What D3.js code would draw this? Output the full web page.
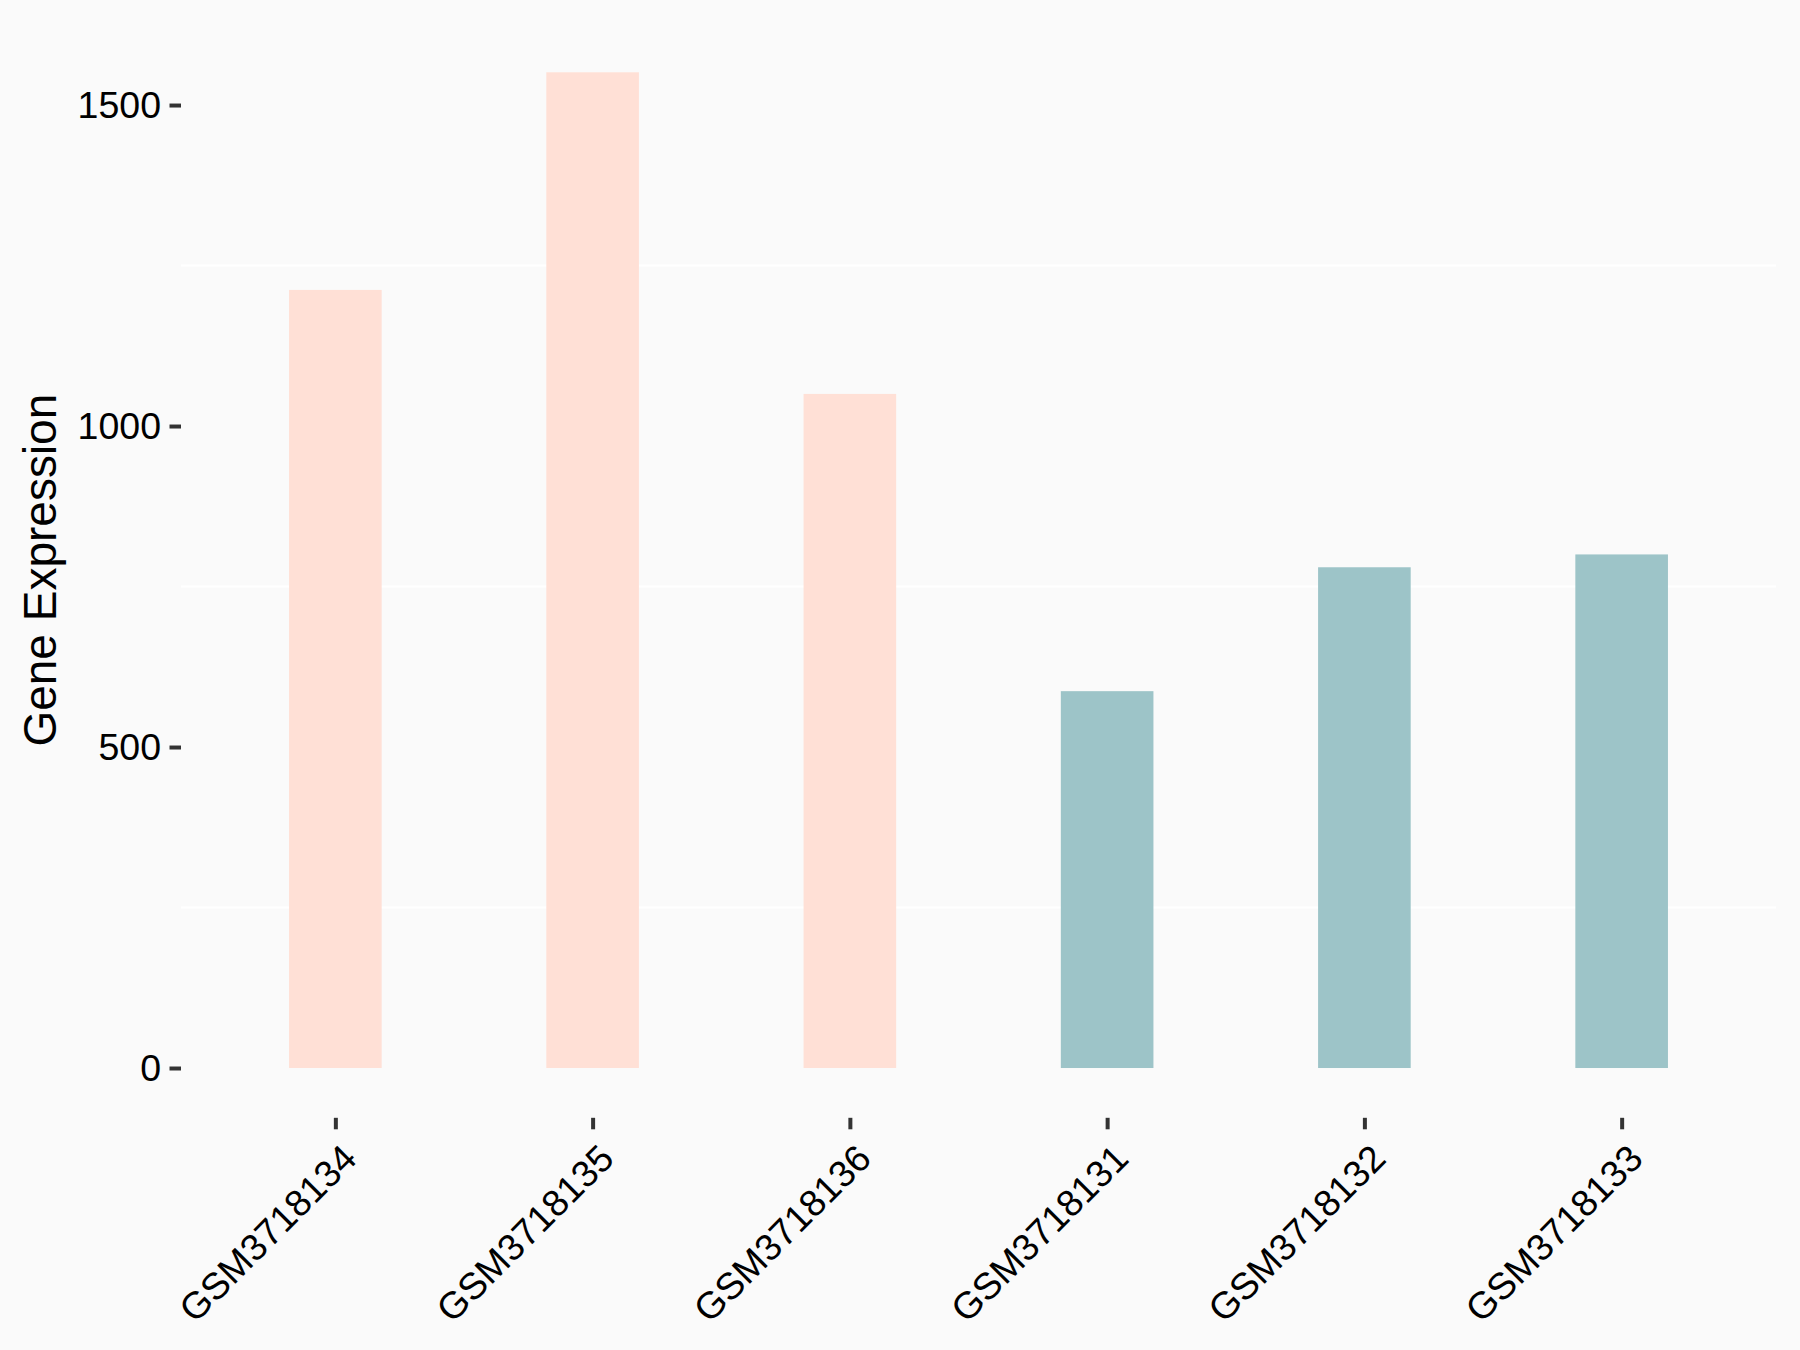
<!DOCTYPE html>
<html><head><meta charset="utf-8">
<script src="https://cdn.jsdelivr.net/npm/d3@7"></script>
<style>html,body{margin:0;padding:0;background:#FAFAFA;}svg{display:block;}</style>
</head><body>
<script>
const categories = ["GSM3718134","GSM3718135","GSM3718136","GSM3718131","GSM3718132","GSM3718133"];
const values = [1212, 1551, 1050, 587, 780, 800];
const groups = ["A","A","A","B","B","B"];
const groupColors = {A:"#FFE0D6", B:"#9DC4C8"};
const yTicks = [0, 500, 1000, 1500];
const yMinor = [250, 750, 1250];

const W = 1800, H = 1350;
const panel = {left:181, right:1776, top:22.5, bottom:1117.8};
const FONT = "'Liberation Sans', Arial, sans-serif";
const svg = d3.select("body").append("svg").attr("width", W).attr("height", H);
svg.append("rect").attr("width", W).attr("height", H).attr("fill", "#FAFAFA");

const vmax = d3.max(values);
const y = d3.scaleLinear().domain([-0.05*vmax, 1.05*vmax]).range([panel.bottom, panel.top]);
const x = d3.scalePoint().domain(categories).range([panel.left, panel.right]).padding(0.6);
const bw = x.step()*0.36;

// minor gridlines
svg.append("g").selectAll("line").data(yMinor).join("line")
  .attr("x1", panel.left).attr("x2", panel.right)
  .attr("y1", d=>y(d)).attr("y2", d=>y(d))
  .attr("stroke", "#FFFFFF").attr("stroke-width", 2);

// bars
svg.append("g").selectAll("rect").data(categories).join("rect")
  .attr("x", (d)=>x(d)-bw/2).attr("width", bw)
  .attr("y", (d,i)=>y(values[i])).attr("height", (d,i)=>y(0)-y(values[i]))
  .attr("fill", (d,i)=>groupColors[groups[i]]);

// y axis
const yAxis = d3.axisLeft(y).tickValues(yTicks).tickSize(11.5).tickPadding(8.5).tickFormat(d3.format("d"));
const gy = svg.append("g").attr("transform", `translate(${panel.left},0)`).call(yAxis);
gy.select(".domain").remove();
gy.selectAll(".tick line").attr("stroke", "#333333").attr("stroke-width", 4);
gy.selectAll(".tick text").attr("fill", "#000").style("font-family", FONT).style("font-size", "37.5px");

// x axis
const xAxis = d3.axisBottom(x).tickSize(11.5).tickFormat(d=>d);
const gx = svg.append("g").attr("transform", `translate(0,${panel.bottom})`).call(xAxis);
gx.select(".domain").remove();
gx.selectAll(".tick line").attr("stroke", "#333333").attr("stroke-width", 4);
gx.selectAll(".tick text")
  .attr("fill", "#000")
  .style("font-family", FONT).style("font-size", "37.5px")
  .attr("text-anchor", "end")
  .attr("y", 0).attr("dy", "0.71em")
  .attr("transform", "translate(4,24) rotate(-45)");

// y title
svg.append("text")
  .attr("transform", `translate(55.5,${(panel.top+panel.bottom)/2}) rotate(-90)`)
  .attr("text-anchor", "middle")
  .style("font-family", FONT).style("font-size", "46px")
  .attr("fill", "#000")
  .text("Gene Expression");
</script>
</body></html>
